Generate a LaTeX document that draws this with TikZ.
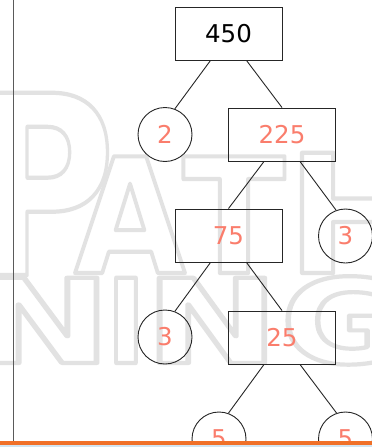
\documentclass[tikz,border=0pt]{standalone}
\usepackage{fontspec}
\setmainfont{DejaVu Sans}
\usetikzlibrary{calc}
\definecolor{numsalmon}{RGB}{250,125,108}
\definecolor{wmgray}{RGB}{226,226,226}
\definecolor{orangec}{RGB}{240,112,40}
\definecolor{bluec}{RGB}{210,228,240}
\definecolor{vgray}{RGB}{90,90,90}
\newcommand{\wmletter}[3]{\scalebox{#2}[1]{\fontsize{#1}{#1}\selectfont\bfseries\special{pdf:literal direct 1 Tr 4.2 w 1 j 1 J}#3\special{pdf:literal direct 0 Tr}}}
\begin{document}
\begin{tikzpicture}[x=1pt,y=-1pt,
  box/.style={draw=black!85, line width=0.9pt, minimum width=107pt, minimum height=53pt, inner sep=0pt},
  circ/.style={circle, draw=black!85, line width=0.9pt, minimum size=54pt, inner sep=0pt},
  num/.style={font=\fontsize{24.5}{29}\selectfont, text=numsalmon},
  edge/.style={draw=black!85, line width=0.9pt},
  wm/.style={inner sep=0pt, anchor=base, text=wmgray},
  vline/.style={draw=vgray, line width=1.2pt}]
\useasboundingbox (0,0) rectangle (372,447);
\fill[white] (0,0) rectangle (372,447);
% watermark
\node[wm] (wP) at (44,275) {\wmletter{250}{0.78}{P}};
\node[wm] (wA) at (130,273) {\wmletter{160}{0.9}{A}};
\node[wm] (wT) at (234,273) {\wmletter{160}{0.94}{T}};
\node[wm] (wH) at (356,273) {\wmletter{165}{1.0}{H}};
\node[wm] (wN1) at (43,363) {\wmletter{117}{1.4}{N}};
\node[wm] (wI) at (126,363) {\wmletter{117}{0.9}{I}};
\node[wm] (wN2) at (212,363) {\wmletter{117}{1.37}{N}};
\node[wm] (wG) at (343,363) {\wmletter{117}{1.3}{G}};
% left rule
\coordinate (vt) at (13.5,0);
\coordinate (vb) at (13.5,441);
\draw[vline] (vt) -- (vb);
% tree
\node[box, num, text=black] (n450) at (228.5,33.5) {450};
\node[circ, num] (n2) at (165,134.5) {2};
\node[box, num] (n225) at (282,134.5) {225};
\node[box, num] (n75) at (228.5,235.5) {75};
\node[circ, num] (n3r) at (345.5,236) {3};
\node[circ, num] (n3l) at (165,337) {3};
\node[box, num] (n25) at (282,337.5) {25};
\node[circ, num] (n5l) at (219,439) {5};
\node[circ, num] (n5r) at (345.5,439) {5};
\draw[edge] ($(n450.south west)!1/3!(n450.south east)$) -- (n2.69);
\draw[edge] ($(n450.south west)!2/3!(n450.south east)$) -- (n225.north);
\draw[edge] ($(n225.south west)!1/3!(n225.south east)$) -- (n75.north);
\draw[edge] ($(n225.south west)!2/3!(n225.south east)$) -- (n3r.110);
\draw[edge] ($(n75.south west)!1/3!(n75.south east)$) -- (n3l.69);
\draw[edge] ($(n75.south west)!2/3!(n75.south east)$) -- (n25.north);
\draw[edge] ($(n25.south west)!1/3!(n25.south east)$) -- (n5l.70);
\draw[edge] ($(n25.south west)!2/3!(n25.south east)$) -- (n5r.109);
% bottom strips
\fill[orangec] (0,440.7) rectangle (372,445.3);
\fill[bluec] (0,445.3) rectangle (372,447);
\end{tikzpicture}
\end{document}
